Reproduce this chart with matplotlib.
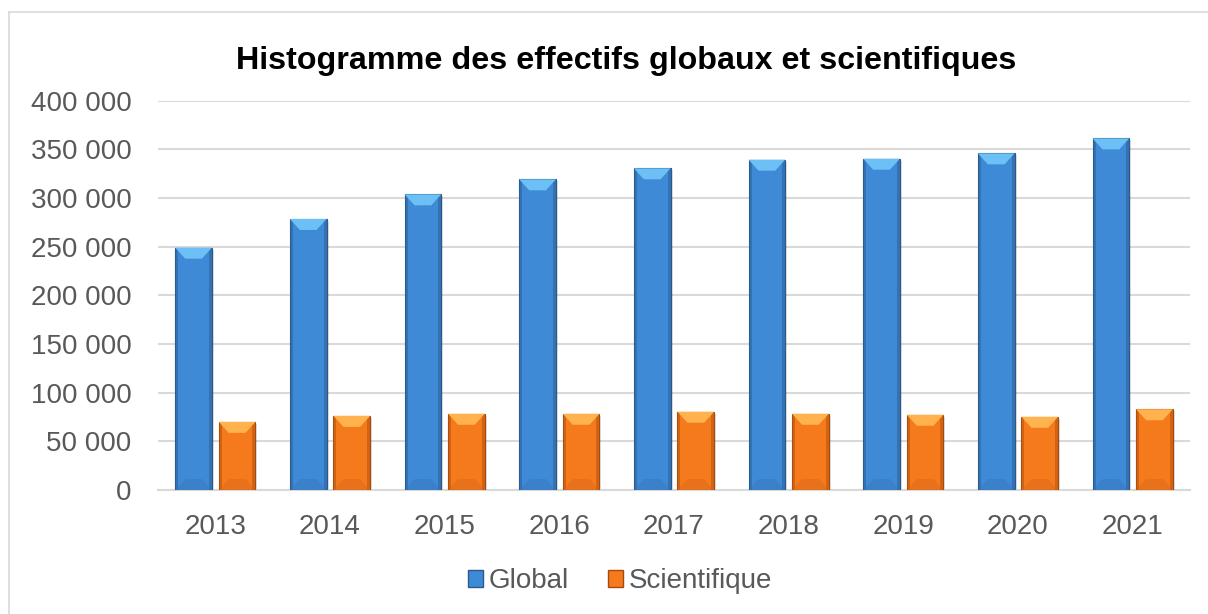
import numpy as np
import matplotlib.pyplot as plt
from matplotlib.patches import Polygon, Rectangle
from matplotlib.lines import Line2D
from matplotlib.ticker import FuncFormatter

plt.rcParams['font.family'] = ['Liberation Sans', 'DejaVu Sans']

years = ['2013', '2014', '2015', '2016', '2017', '2018', '2019', '2020', '2021']
global_vals = [249000, 278500, 303800, 319200, 330500, 339400, 340400, 345900, 361300]
scient_vals = [70000, 76200, 78300, 78300, 80400, 78300, 77300, 75200, 83000]

blue = {'main': '#3f8ad6', 'top': '#6cc0f6', 'bottom': '#3774b8', 'side': '#2c5f96', 'edge': '#2a5a8c'}
orange = {'main': '#f47a1c', 'top': '#ffb24e', 'bottom': '#d8661a', 'side': '#b5520e', 'edge': '#a54a0c'}

fig = plt.figure(figsize=(12.08, 6.14), dpi=100)
ax = fig.add_axes([158 / 1208, 1 - 490 / 614, (1190 - 158) / 1208, (490 - 100.7) / 614])

x = np.arange(len(years))
width = 0.32
offset = 0.19

# pixels -> data units for the bevels
px_x = 1 / 114.7
px_y = 400000 / 389.3


def bevel_bar(xc, h, c):
    x0, x1 = xc - width / 2, xc + width / 2
    bx = 10 * px_x
    by = min(11 * px_y, h / 4)
    # ombre
    ax.add_patch(Rectangle((x0 + 2 * px_x, -2 * px_y), width, h, color='#000000', alpha=0.12, lw=0, zorder=2))
    ax.add_patch(Rectangle((x0, 0), width, h, facecolor=c['main'], edgecolor=c['edge'], lw=0.8, zorder=3))
    # bords latéraux
    ax.add_patch(Polygon([(x0, 0), (x0 + 3 * px_x, 0), (x0 + 3 * px_x, h), (x0, h)], color=c['side'], alpha=0.55, lw=0, zorder=4))
    ax.add_patch(Polygon([(x1 - 3 * px_x, 0), (x1, 0), (x1, h), (x1 - 3 * px_x, h)], color=c['side'], alpha=0.55, lw=0, zorder=4))
    # biseau haut / bas
    ax.add_patch(Polygon([(x0, h), (x1, h), (x1 - bx, h - by), (x0 + bx, h - by)], color=c['top'], lw=0, zorder=5))
    ax.add_patch(Polygon([(x0, 0), (x1, 0), (x1 - bx, by), (x0 + bx, by)], color=c['bottom'], alpha=0.4, lw=0, zorder=5))


for i in range(len(years)):
    bevel_bar(x[i] - offset, global_vals[i], blue)
    bevel_bar(x[i] + offset, scient_vals[i], orange)

ax.set_xlim(-0.5, len(years) - 0.5)
ax.set_ylim(0, 400000)
ax.set_yticks(np.arange(0, 400001, 50000))
ax.yaxis.set_major_formatter(FuncFormatter(lambda v, p: f"{int(v):,}".replace(',', ' ')))
ax.set_xticks(x)
ax.set_xticklabels(years)
ax.grid(axis='y', color='#d9d9d9', lw=1.5, zorder=0)
ax.set_axisbelow(True)
for s in ['top', 'right', 'left']:
    ax.spines[s].set_visible(False)
ax.spines['bottom'].set_color('#d9d9d9')
ax.spines['bottom'].set_linewidth(1.5)
ax.tick_params(axis='both', length=0, labelsize=20, colors='#595959')
ax.tick_params(axis='y', pad=19)
ax.tick_params(axis='x', pad=17)

fig.text(0.518, 1 - 61 / 614, 'Histogramme des effectifs globaux et scientifiques',
         ha='center', va='center', fontsize=23.2, fontweight='bold', color='black')

# cadre du graphique
fig.add_artist(Line2D([9 / 1208, 9 / 1208], [0, 1 - 11.5 / 614], color='#d9d9d9', lw=1.2))
fig.add_artist(Line2D([9 / 1208, 1], [1 - 11.5 / 614, 1 - 11.5 / 614], color='#d9d9d9', lw=1.2))

handles = [Rectangle((0, 0), 1, 1, facecolor=blue['main'], edgecolor=blue['edge']),
           Rectangle((0, 0), 1, 1, facecolor=orange['main'], edgecolor=orange['edge'])]
leg = fig.legend(handles, ['Global', 'Scientifique'], loc='center', bbox_to_anchor=(0.513, 1 - 581 / 614),
                 ncol=2, frameon=False, fontsize=20, handlelength=0.55, handleheight=0.55,
                 handletextpad=0.2, columnspacing=1.4)
for t in leg.get_texts():
    t.set_color('#595959')

fig.savefig('out.png', dpi=100)
